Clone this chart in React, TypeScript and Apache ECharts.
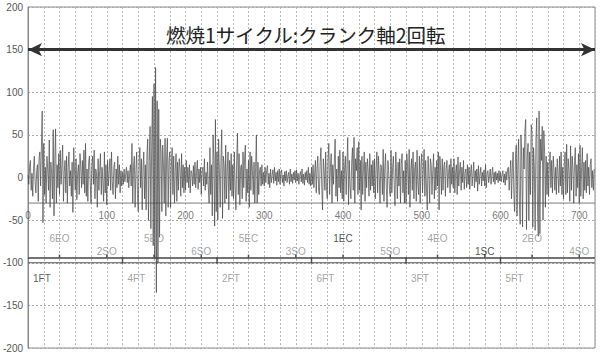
import React, { useEffect, useRef } from 'react';
import * as echarts from 'echarts';

const TITLE = '燃焼1サイクル:クランク軸2回転';

// crank angle range (deg)
const X_MIN = 0;
const X_MAX = 720;
const X_GRID = 20;
const Y_MIN = -200;
const Y_MAX = 200;
const Y_GRID = 50;

// vibration signal, one sample per degree of crank angle
const SAMPLE_STEP = 1;
const signal = [
  3, -8, 12, 20, -15, 5, -22, 10, 25, -5, -18, 8, 15, -28, 22, 30, -10, 35, 78, -53,
  40, -20, 12, -30, 25, 10, -15, 44, -35, 18, 5, -25, 56, -45, 20, 57, -30, 15, -12, 28,
  -20, 32, -8, 15, 38, -28, 6, 20, -18, 25, -30, 12, 30, -10, 8, -22, 18, -41, 35, 10,
  -15, 22, -26, 5, 15, -20, 28, 12, -12, 20, -8, 32, -18, 40, -22, 10, -28, 18, 25, -6,
  -30, 14, 25, -8, 32, -25, 10, 5, -35, 22, -15, 8, 28, -20, 12, -5, -28, 30, -18, 15,
  -32, 20, -10, 8, 22, -15, 30, -5, -20, 12, 18, -25, 10, -12, 25, -8, 15, -18, 8, -10,
  6, -8, 10, -5, 4, 12, -6, 8, -12, 5, 15, -10, 40, -30, 12, 25, -35, 8, 30, -20,
  -40, 18, 35, -12, 22, -38, 10, 30, -25, 15, -38, 28, 45, -50, 20, 60, -60, 35, 95, -80,
  110, -95, 129, -135, 90, -100, 80, -70, 45, 30, -40, 38, 15, -30, 46, -45, 25, 46, -35, 20,
  30, -35, 12, 35, -20, 25, -30, 8, 28, -28, 18, -15, 22, 10, -22, 28, -12, 15, -18, 12,
  -15, 20, -6, 12, -12, 15, -18, 8, 5, -10, 14, -8, 18, -12, 6, 20, -14, 10, -6, 12,
  -20, 8, 12, -10, 22, -15, 6, -8, 18, -12, -30, 35, -20, 15, -45, 50, 20, -57, 68, -40,
  30, -50, 45, 10, -35, 20, 56, -48, 25, 15, -30, 38, -25, 8, 30, -38, 20, -15, 28, -22,
  15, -25, 30, -10, -38, 20, 52, -20, 28, -32, 12, 15, -25, 30, -12, 22, 38, -28, 10, -18,
  20, -35, 30, -15, 25, 8, -20, 18, -30, 12, 50, -30, 18, -20, 8, 12, -10, 15, -8, 6,
  -10, 12, -6, 8, 14, -8, 5, -12, 10, -6, 3, 9, -7, 12, -4, 6, -9, 8, -5, 10,
  -8, 5, 9, -6, 3, -10, 7, -4, 8, -6, 2, 6, -8, 10, -5, 4, -7, 6, -3, 8,
  -6, 9, -4, 5, -8, 3, 7, -5, 10, -7, 4, -9, 6, -3, 8, -6, 12, -8, 5, -10,
  12, -8, 15, -12, 6, 20, -18, 10, 25, -15, -20, 18, 35, -10, -38, 22, 8, -15, 30, -12,
  -25, 20, 40, -20, 12, 28, -30, 15, -8, 18, 45, -22, 10, -28, 25, -12, 32, -18, 8, -25,
  30, -28, 12, 25, -20, 15, 47, -32, 20, -10, -25, 18, 35, -15, 47, -30, 22, 8, 35, -20,
  42, -15, 20, -38, 25, -20, 10, 30, -28, 18, -12, 22, 8, -22, 28, -15, 15, -10, 20, -18,
  22, -25, 10, 30, -18, 25, 5, -30, 15, 12, -20, 33, -28, 10, 28, -12, -35, 20, 8, -15,
  -22, 32, -18, 12, 25, -8, -33, 30, 6, -25, 18, -10, 22, -30, 15, 28, -18, 8, -30, 20,
  -30, 28, 12, -20, 33, -35, 8, 22, -15, 30, -25, 10, 18, -28, 32, -8, -20, 25, -30, 15,
  28, -18, 10, 33, -22, 20, -12, -38, 25, 5, -30, 22, 15, -20, 8, 28, -25, 12, -15, 20,
  -10, 30, -38, 25, 8, -20, 22, -15, 12, 18, -22, 10, 20, -12, 5, 15, -18, 22, -8, 12,
  -12, 22, -18, 6, 15, -20, 24, -10, 8, 18, -15, 12, -6, 20, -14, 5, 10, -12, 15, -8,
  12, -14, 6, 15, -10, 3, 18, -12, 8, -5, 10, -16, 14, -8, 4, 12, -10, 6, -4, 9,
  -10, 15, -12, 5, 8, -6, 3, 10, -8, 4, 12, -5, 6, -8, 7, -3, 5, -6, 8, -4,
  6, -5, 3, 8, -6, 4, -9, 7, -3, 10, 12, -15, 5, 20, -25, 10, 30, -20, -40, 25,
  38, -45, 15, 45, -30, -55, 50, 20, -58, 35, 10, 55, 68, -61, 25, 40, -50, 30, -20, 62,
  53, -58, 35, 10, -62, 45, 70, -40, -69, 78, -66, 45, 20, 60, -50, 55, 30, -35, 25, -20,
  18, -22, 15, 30, -12, 20, -18, 25, 8, -15, 12, -20, 22, 5, -18, 25, -10, 30, -20, 12,
  -25, 15, 30, -20, 39, -18, 22, 8, -28, 37, -15, 25, 10, -30, 20, 35, -22, 15, -12, 28,
  -30, 38, -22, 12, 35, -25, 18, -15, 20, -18, 28, -10, 12, -20, 15, 22, -12, 8, -15, 10,
];

// x-axis labels drawn on the reference line
const angleLabels = [0, 100, 200, 300, 400, 500, 600, 700];
const AXIS_LEVEL = -30;
const ANGLE_LABEL_LEVEL = -44.7;

// valve events
const eventAngles = [40, 100, 160, 220, 280, 340, 400, 460, 520, 580, 640, 700];
const eventNames = ['6EO', '2SO', '5EO', '6SO', '5EC', '3SO', '1EC', '5SO', '4EO', '1SC', '2EO', '4SO'];
const EVENT_UPPER_LEVEL = -72;
const EVENT_LOWER_LEVEL = -87;

// firing sequence
const firingStarts = [0, 120, 240, 360, 480, 600];
const firingNames = ['1FT', '4FT', '2FT', '6FT', '3FT', '5FT'];
const RAIL_TOP = -94.5;
const RAIL_BOTTOM = -100;
const FIRING_LABEL_LEVEL = -119;

const ARROW_LEVEL = 150;

const FONT = '"Liberation Sans", Arial, sans-serif';

export default function App() {
  const ref = useRef<HTMLDivElement>(null);
  useEffect(() => {
    document.body.style.margin = '0';
    if (!ref.current) return;
    const chart = echarts.init(ref.current, null, { renderer: 'svg' });
    const hline = (level: number, color: string, width: number) => ({
      type: 'line',
      data: [[X_MIN, level], [X_MAX, level]],
      symbol: 'none',
      silent: true,
      lineStyle: { color, width },
      z: 2,
    });
    const isCyl1 = (n: string) => n.charAt(0) === '1';
    const textLabel = {
      show: true,
      formatter: '{b}',
      fontSize: 10,
      fontFamily: FONT,
      textBorderWidth: 0,
    };
    chart.setOption({
      animation: false,
      backgroundColor: '#ffffff',
      title: {
        text: TITLE,
        left: 166,
        top: 25,
        padding: 0,
        textStyle: {
          fontSize: 19.5,
          fontWeight: 'normal',
          color: '#222',
          fontFamily: '"Noto Sans CJK JP", sans-serif',
        },
      },
      grid: {
        left: 27,
        right: 5,
        top: 7,
        bottom: 8,
        show: true,
        borderColor: '#8a8a8a',
        borderWidth: 1,
      },
      xAxis: {
        type: 'value',
        min: X_MIN,
        max: X_MAX,
        interval: X_GRID,
        axisLine: { show: false },
        axisTick: { show: false },
        axisLabel: { show: false },
        splitLine: { show: true, lineStyle: { color: '#b4b4b4', type: [2, 2], width: 1 } },
      },
      yAxis: {
        type: 'value',
        min: Y_MIN,
        max: Y_MAX,
        interval: Y_GRID,
        axisLine: { show: true, lineStyle: { color: '#888' } },
        axisTick: { show: false },
        axisLabel: { color: '#555', fontSize: 10, fontFamily: FONT, margin: 5 },
        splitLine: { show: true, lineStyle: { color: '#a8a8a8', type: [2, 2], width: 1 } },
      },
      series: [
        hline(AXIS_LEVEL, '#7a7a7a', 1),
        hline(RAIL_TOP, '#444', 1.6),
        hline(RAIL_BOTTOM, '#555', 1.2),
        {
          type: 'line',
          data: signal.map((v, i) => [i * SAMPLE_STEP, v]),
          symbol: 'none',
          silent: true,
          lineStyle: { color: '#474747', width: 0.7 },
          z: 3,
        },
        {
          type: 'line',
          data: [],
          symbol: 'none',
          silent: true,
          markLine: {
            silent: true,
            symbol: ['arrow', 'arrow'],
            symbolSize: [10, 14],
            label: { show: false },
            lineStyle: { color: '#333', width: 3, type: 'solid' },
            data: [[{ coord: [X_MIN, ARROW_LEVEL] }, { coord: [X_MAX, ARROW_LEVEL] }]],
          },
        },
        {
          type: 'scatter',
          silent: true,
          symbol: 'rect',
          symbolSize: [1.5, 6],
          itemStyle: { color: '#333' },
          data: firingStarts.slice(1).map((x) => [x, (RAIL_TOP + RAIL_BOTTOM) / 2]),
          z: 4,
        },
        {
          type: 'scatter',
          silent: true,
          symbol: 'rect',
          symbolSize: [1.5, 3],
          symbolOffset: [0, -2],
          itemStyle: { color: '#333' },
          data: eventAngles.map((x) => [x, RAIL_TOP]),
          z: 4,
        },
        {
          type: 'scatter',
          silent: true,
          symbolSize: 0,
          itemStyle: { color: 'rgba(0,0,0,0)' },
          data: angleLabels.map((a) => ({ value: [a, ANGLE_LABEL_LEVEL], name: String(a) })),
          label: { ...textLabel, position: 'inside', color: '#555' },
          z: 5,
        },
        {
          type: 'scatter',
          silent: true,
          symbolSize: 0,
          itemStyle: { color: 'rgba(0,0,0,0)' },
          data: eventAngles.map((a, i) => ({
            value: [a, i % 2 === 0 ? EVENT_UPPER_LEVEL : EVENT_LOWER_LEVEL],
            name: eventNames[i],
            label: { color: isCyl1(eventNames[i]) ? '#222' : '#8a8a8a' },
          })),
          label: { ...textLabel, position: 'inside', color: '#8a8a8a' },
          z: 5,
        },
        {
          type: 'scatter',
          silent: true,
          symbolSize: 0,
          itemStyle: { color: 'rgba(0,0,0,0)' },
          data: firingStarts.map((a, i) => ({
            value: [a, FIRING_LABEL_LEVEL],
            name: firingNames[i],
            label: { color: isCyl1(firingNames[i]) ? '#333' : '#8a8a8a' },
          })),
          label: { ...textLabel, position: 'right', distance: 5, color: '#8a8a8a' },
          z: 5,
        },
      ],
    });
    return () => chart.dispose();
  }, []);
  return <div ref={ref} style={{ width: 600, height: 356 }} />;
}
